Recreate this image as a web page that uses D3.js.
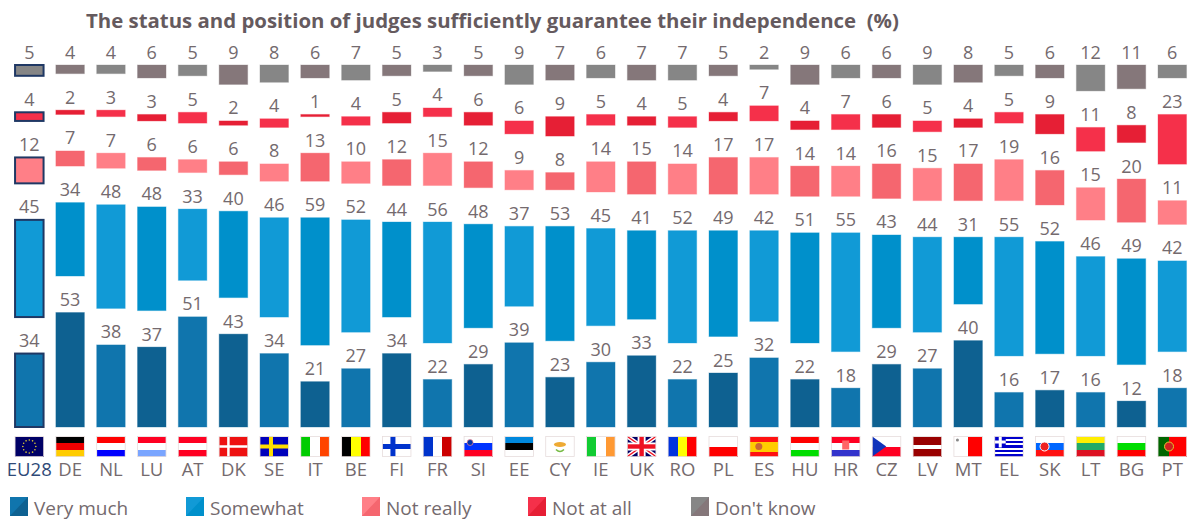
<!DOCTYPE html>
<html>
<head>
<meta charset="utf-8">
<script src="https://cdn.jsdelivr.net/npm/d3@7"></script>
<style>
html, body { margin: 0; background: #fff; }
text { font-family: "Open Sans", "Noto Sans", sans-serif; }
</style>
</head>
<body>
<svg id="chart"></svg>
<script>
const countries = ['EU28','DE','NL','LU','AT','DK','SE','IT','BE','FI','FR','SI','EE','CY','IE','UK','RO','PL','ES','HU','HR','CZ','LV','MT','EL','SK','LT','BG','PT'];
const seriesNames = ['Very much','Somewhat','Not really','Not at all',"Don't know"];

const veryMuch  = [34,53,38,37,51,43,34,21,27,34,22,29,39,23,30,33,22,25,32,22,18,29,27,40,16,17,16,12,18];
const somewhat  = [45,34,48,48,33,40,46,59,52,44,56,48,37,53,45,41,52,49,42,51,55,43,44,31,55,52,46,49,42];
const notReally = [12,7,7,6,6,6,8,13,10,12,15,12,9,8,14,15,14,17,17,14,14,16,15,17,19,16,15,20,11];
const notAtAll  = [4,2,3,3,5,2,4,1,4,5,4,6,6,9,5,4,5,4,7,4,7,6,5,4,5,9,11,8,23];
const dontKnow  = [5,4,4,6,5,9,8,6,7,5,3,5,9,7,6,7,7,5,2,9,6,6,9,8,5,6,12,11,6];
const seriesValues = [veryMuch, somewhat, notReally, notAtAll, dontKnow];

// two shades per series, they alternate from one country to the next
const lightShades = ['#1075ad','#119ad6','#ff7f87','#f5304a','#868686'];
const darkShades  = ['#0e6191','#0090cb','#f5666f','#e61f35','#85777a'];

const legendX = [10, 186, 362, 528, 691];

// simple stripes: [direction, colours]
const stripes = {
    DE: ['h', ['#000','#e00','#fc0']],
    NL: ['h', ['#f00','#fff','#00f']],
    LU: ['h', ['#f02','#fff','#7aa5ff']],
    AT: ['h', ['#f02','#fff','#f02']],
    IT: ['v', ['#0c0','#fff','#f40']],
    BE: ['v', ['#000','#ff0','#f00']],
    FR: ['v', ['#03c','#fff','#c00']],
    SI: ['h', ['#fff','#03f','#f02']],
    EE: ['h', ['#08d','#000','#fff']],
    CY: ['h', ['#fff']],
    IE: ['v', ['#1c3','#fff','#f93']],
    RO: ['v', ['#03d','#ff0','#f00']],
    PL: ['h', ['#fff','#f00']],
    ES: ['h', ['#f11','#fc0','#fc0','#f11']],
    HU: ['h', ['#f00','#fff','#0d0']],
    HR: ['h', ['#f02','#fff','#33c']],
    CZ: ['h', ['#fff','#f02']],
    LV: ['h', ['#900','#900','#fff','#900','#900']],
    MT: ['v', ['#fff','#f00']],
    SK: ['h', ['#fff','#06f','#f11']],
    LT: ['h', ['#fe0','#2a6','#d12']],
    BG: ['h', ['#fff','#0d0','#f00']],
    PT: ['v', ['#060','#060','#f00','#f00','#f00']],
    EL: ['h', ['#00c','#fff','#00c','#fff','#00c','#fff','#00c','#fff','#00c']],
    EU28: ['h', ['#006']],
    DK: ['h', ['#e11']],
    SE: ['h', ['#00b']],
    FI: ['h', ['#fff']],
    UK: ['h', ['#006']]
};

const W = 1189, H = 520, barW = 28.5, gap = 36.5;

const svg = d3.select('#chart')
    .attr('width', W)
    .attr('height', H)
    .style('display', 'block');

svg.append('text')
    .attr('x', 86)
    .attr('y', 28)
    .attr('font-size', 20.4)
    .attr('font-weight', 700)
    .attr('fill', '#655a5e')
    .text('The status and position of judges sufficiently guarantee their independence\u00a0\u00a0(%)');

const x = d3.scaleBand()
    .domain(countries)
    .range([15 - 6.1, 15 - 6.1 + 40.82 * 29])
    .paddingInner(1 - barW / 40.82)
    .paddingOuter((1 - barW / 40.82) / 2);

// value scale, each series is then pushed up by its own gap
const y = d3.scaleLinear().domain([0, 100]).range([427, 211]);

const rows = countries.map((c, i) => {
    const r = { country: c, index: i };
    seriesNames.forEach((s, j) => r[s] = seriesValues[j][i]);
    return r;
});
const stacked = d3.stack().keys(seriesNames)(rows);

const groups = svg.selectAll('g.series')
    .data(stacked)
    .join('g')
    .attr('class', 'series');

function shade(j, i) {
    return i % 2 ? darkShades[j] : lightShades[j];
}

groups.each(function(layer, j) {
    const g = d3.select(this);
    const top = d => y(d[1]) - j * gap;
    const bottom = d => y(d[0]) - j * gap;

    // pale halo round every bar
    g.selectAll('rect.halo')
        .data(layer)
        .join('rect')
        .attr('class', 'halo')
        .attr('x', d => x(d.data.country))
        .attr('y', top)
        .attr('width', x.bandwidth())
        .attr('height', d => bottom(d) - top(d))
        .attr('fill', d => shade(j, d.data.index))
        .attr('stroke', d => d.data.country === 'EU28' ? '#1f3864' : shade(j, d.data.index))
        .attr('stroke-opacity', d => d.data.country === 'EU28' ? 1 : 0.35)
        .attr('stroke-width', d => d.data.country === 'EU28' ? 2 : 1);

    g.selectAll('text')
        .data(layer)
        .join('text')
        .attr('x', d => x(d.data.country) + x.bandwidth() / 2)
        .attr('y', d => top(d) - 6.5)
        .attr('text-anchor', 'middle')
        .attr('font-size', 18)
        .attr('fill', '#746a6e')
        .text(d => d.data[seriesNames[j]]);
});

// country labels
const axis = svg.append('g')
    .attr('transform', 'translate(0,460)')
    .call(d3.axisBottom(x).tickSize(0).tickPadding(3));
axis.select('.domain').remove();
axis.selectAll('text')
    .attr('font-size', 18.5)
    .attr('font-family', '"Open Sans", "Noto Sans", sans-serif')
    .attr('fill', d => d === 'EU28' ? '#2f4a78' : '#746a6e');

// flags
const flagH = 20;
function drawFlag(c) {
    const fw = x.bandwidth(), fx = x(c), fy = 436.5;
    const g = svg.append('g').attr('transform', `translate(${fx},${fy})`);
    const def = stripes[c];
    const band = d3.scaleBand()
        .domain(d3.range(def[1].length))
        .range([0, def[0] === 'h' ? flagH : fw]);
    // crisp, or neighbouring stripes of one colour show a seam
    g.selectAll('rect')
        .data(def[1])
        .join('rect')
        .attr('shape-rendering', 'crispEdges')
        .attr('x', (d, i) => def[0] === 'h' ? 0 : band(i))
        .attr('y', (d, i) => def[0] === 'h' ? band(i) : 0)
        .attr('width', def[0] === 'h' ? fw : band.bandwidth())
        .attr('height', def[0] === 'h' ? band.bandwidth() : flagH)
        .attr('fill', d => d);

    const r = (a, b, w, h, f) => g.append('rect').attr('x', a).attr('y', b).attr('width', w).attr('height', h).attr('fill', f);
    const cross = (col, cx, t) => {
        r(cx, 0, t, flagH, col); r(0, 10 - t / 2, fw, t, col);
    };
    if (c === 'EU28') {
        d3.range(12).forEach(k => {
            const a = k * Math.PI / 6;
            g.append('circle').attr('cx', fw / 2 + 6.5 * Math.cos(a)).attr('cy', 10 + 6.5 * Math.sin(a)).attr('r', 0.8).attr('fill', '#dc3');
        });
    } else if (c === 'DK') {
        cross('#fff', 8, 2.5);
    } else if (c === 'SE') {
        cross('#fd0', 9, 4);
    } else if (c === 'FI') {
        cross('#03c', 8, 5);
    } else if (c === 'UK') {
        g.append('path').attr('d', `M0,0L${fw},${flagH}M${fw},0L0,${flagH}`).attr('stroke', '#fff').attr('stroke-width', 4);
        g.append('path').attr('d', `M0,0L${fw},${flagH}M${fw},0L0,${flagH}`).attr('stroke', '#e12').attr('stroke-width', 1.5);
        r(fw / 2 - 4, 0, 8, flagH, '#fff'); r(0, 6, fw, 8, '#fff');
        r(fw / 2 - 2.2, 0, 4.4, flagH, '#e12'); r(0, 7.8, fw, 4.4, '#e12');
    } else if (c === 'CZ') {
        g.append('path').attr('d', `M0,0L14,10L0,20Z`).attr('fill', '#13b');
    } else if (c === 'EL') {
        r(0, 0, 11, 11, '#00c'); r(4, 0, 3, 11, '#fff'); r(0, 4, 11, 3, '#fff');
    } else if (c === 'CY') {
        g.append('ellipse').attr('cx', fw / 2).attr('cy', 8).attr('rx', 6).attr('ry', 2.5).attr('fill', '#ea3');
        g.append('path').attr('d', `M${fw / 2 - 4},13Q${fw / 2},17 ${fw / 2 + 4},13`).attr('fill', 'none').attr('stroke', '#7b4').attr('stroke-width', 1.5);
    } else if (c === 'SI') {
        g.append('circle').attr('cx', 6).attr('cy', 6).attr('r', 3).attr('fill', '#03a').attr('stroke', '#f88').attr('stroke-width', 0.7);
    } else if (c === 'ES') {
        g.append('circle').attr('cx', 9).attr('cy', 10).attr('r', 3.5).attr('fill', '#c63');
    } else if (c === 'HR') {
        r(fw / 2 - 3.5, 4, 7, 9, '#f66');
    } else if (c === 'SK') {
        g.append('circle').attr('cx', 9).attr('cy', 10).attr('r', 4.5).attr('fill', '#e22').attr('stroke', '#fff');
    } else if (c === 'PT') {
        g.append('circle').attr('cx', 11).attr('cy', 10).attr('r', 4.5).attr('fill', '#c22').attr('stroke', '#dc3');
    } else if (c === 'MT') {
        g.append('circle').attr('cx', 3.5).attr('cy', 3.5).attr('r', 1.5).attr('fill', '#888');
    }
    // thin pale edge
    g.append('rect').attr('width', fw).attr('height', flagH)
        .attr('fill', 'none').attr('stroke', '#e6dcdc').attr('stroke-width', 0.8);
}
countries.forEach(drawFlag);

// legend, swatch split along the diagonal
const legend = svg.selectAll('g.legend')
    .data(seriesNames)
    .join('g')
    .attr('class', 'legend')
    .attr('transform', (d, i) => `translate(${legendX[i]},497)`);
legend.append('rect').attr('width', 18).attr('height', 19).attr('fill', (d, i) => lightShades[i]);
legend.append('path').attr('d', 'M18,0L18,19L0,19Z').attr('fill', (d, i) => darkShades[i]);
legend.append('text')
    .attr('x', 24)
    .attr('y', 17.5)
    .attr('font-size', 19)
    .attr('fill', '#746a6e')
    .text(d => d);
</script>
</body>
</html>
